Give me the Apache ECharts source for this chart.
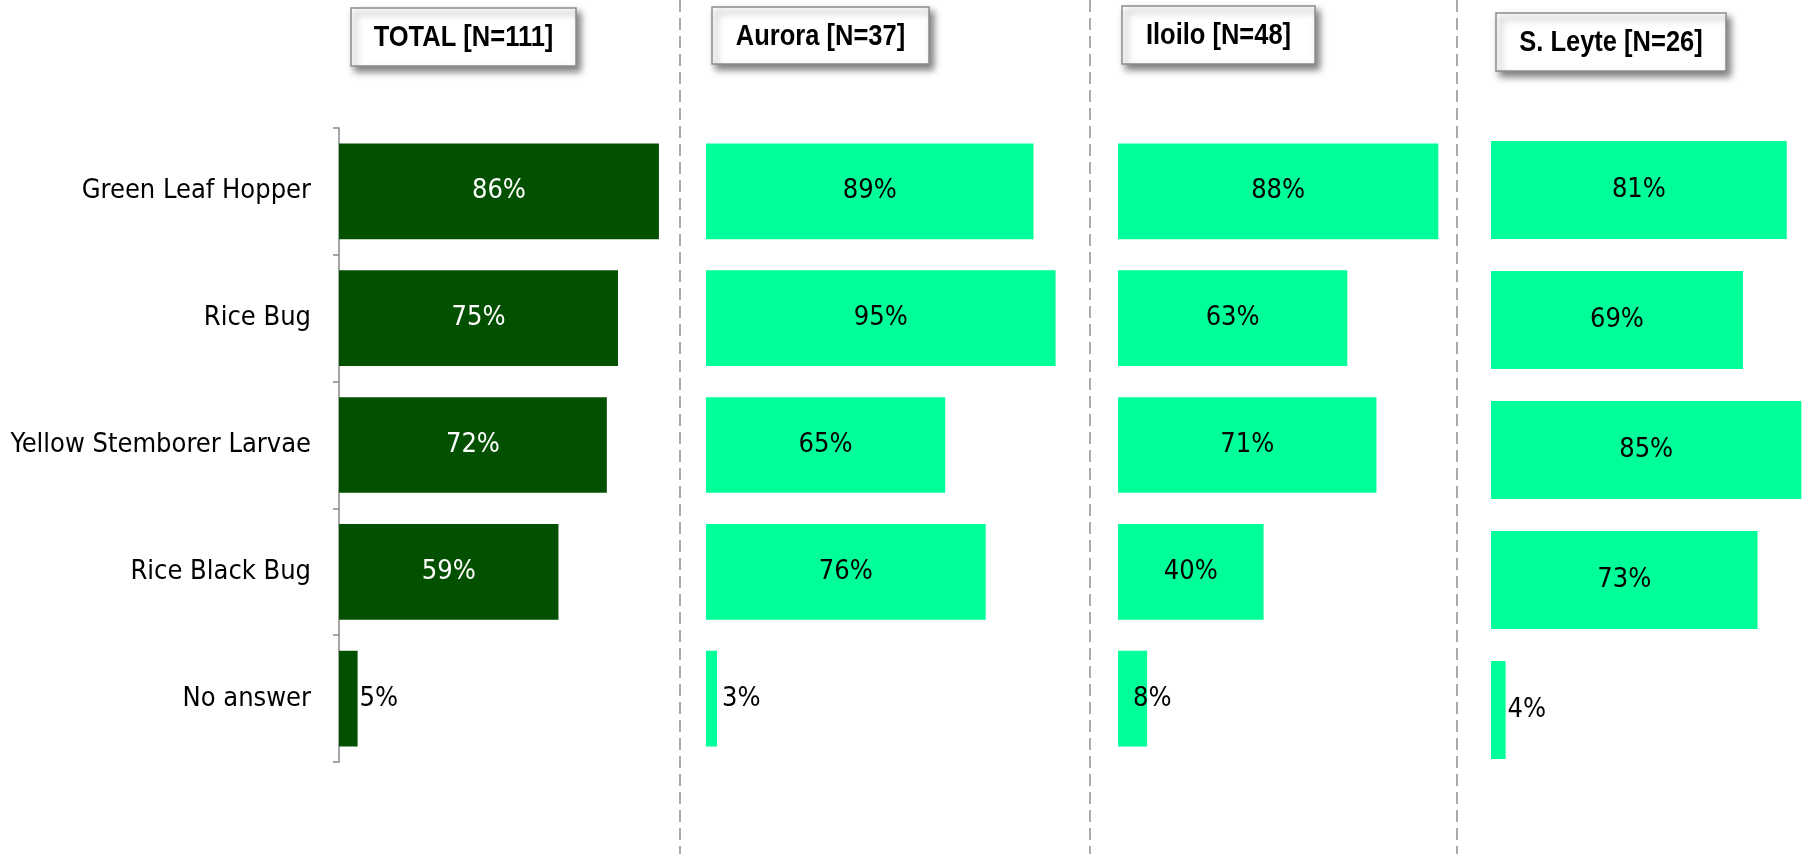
<!DOCTYPE html>
<html>
<head>
<meta charset="utf-8">
<script src="https://cdn.jsdelivr.net/npm/echarts@6/dist/echarts.min.js"></script>
<style>
  html, body { margin: 0; padding: 0; background: #fff; }
  #chart { width: 1805px; height: 854px; }
</style>
</head>
<body>
<div id="chart"></div>
<script>
const categories = ['Green Leaf Hopper', 'Rice Bug', 'Yellow Stemborer Larvae', 'Rice Black Bug', 'No answer']
const panelTitles = ['TOTAL [N=111]', 'Aurora [N=37]', 'Iloilo [N=48]', 'S. Leyte [N=26]']
const totalValues = [86, 75, 72, 59, 5]
const auroraValues = [89, 95, 65, 76, 3]
const iloiloValues = [88, 63, 71, 40, 8]
const leyteValues = [81, 69, 85, 73, 4]

const FONT = '"Liberation Sans Narrow", "Arial Narrow", "DejaVu Sans Condensed", sans-serif'
const DARK = '#025000'
const LIGHT = '#00FF99'

// layout of the four panels (px); S. Leyte runs up to the right edge, so its
// axis max is cut down instead of letting the grid overflow
const grids = [
  { left: 339, top: 128, width: 372, height: 634 },
  { left: 706, top: 128, width: 368, height: 634 },
  { left: 1118, top: 128, width: 364, height: 634 },
  { left: 1491, top: 125, width: 314, height: 650 },
]
const axisMax = [100, 100, 100, 86]
const boxes = [
  { x: 351, y: 8, w: 225, h: 58 },
  { x: 712, y: 7, w: 217, h: 57 },
  { x: 1122, y: 6, w: 193, h: 58 },
  { x: 1496, y: 13, w: 230, h: 58 },
]
const dividers = [680, 1090, 1457]

const seriesValues = [totalValues, auroraValues, iloiloValues, leyteValues]

const makeData = (vals, idx) =>
  vals.map((v) => {
    const item = { value: v }
    if (v < 10) {
      item.label = { position: 'right', distance: 2, color: '#000' }
      // Iloilo "8%" sits partly over its bar
      if (idx === 2) item.label.offset = [-16, 0]
      if (idx === 1) item.label.distance = 5
    }
    return item
  })

const option = {
  animation: false,
  backgroundColor: '#fff',
  grid: grids.map((g) => ({ ...g, containLabel: false })),
  xAxis: grids.map((g, i) => ({
    type: 'value',
    gridIndex: i,
    min: 0,
    max: axisMax[i],
    show: false,
  })),
  yAxis: grids.map((g, i) => ({
    type: 'category',
    gridIndex: i,
    data: categories,
    inverse: true,
    axisLine: { show: i === 0, lineStyle: { color: '#888', width: 1.5 } },
    axisTick: { show: i === 0, length: 6, lineStyle: { color: '#888', width: 1.5 } },
    axisLabel: {
      show: i === 0,
      fontFamily: FONT,
      fontSize: 27,
      color: '#000',
      margin: 28,
    },
  })),
  series: seriesValues.map((vals, i) => ({
    type: 'bar',
    xAxisIndex: i,
    yAxisIndex: i,
    barCategoryGap: '24.5%',
    data: makeData(vals, i),
    itemStyle: { color: i === 0 ? DARK : LIGHT },
    label: {
      show: true,
      position: 'inside',
      formatter: '{c}%',
      fontFamily: FONT,
      fontSize: 27,
      color: i === 0 ? '#fff' : '#000',
    },
  })),
  graphic: [
    ...dividers.map((x) => ({
      type: 'line',
      shape: { x1: x, y1: 0, x2: x, y2: 854 },
      style: { stroke: '#aaa', lineWidth: 2, lineDash: [12, 6] },
      z: 0,
    })),
    ...boxes.map((b, i) => ({
      type: 'group',
      children: [
        {
          type: 'rect',
          shape: { x: b.x, y: b.y, width: b.w, height: b.h },
          style: {
            fill: '#fff',
            stroke: '#8c8c8c',
            lineWidth: 1.5,
            shadowBlur: 7,
            shadowOffsetX: 4,
            shadowOffsetY: 5,
            shadowColor: 'rgba(0,0,0,0.5)',
          },
        },
        {
          // narrow bold look: Liberation Sans squeezed horizontally
          type: 'text',
          x: b.x + b.w / 2,
          y: b.y + b.h / 2 + 1,
          scaleX: 0.85,
          style: {
            text: panelTitles[i],
            fontFamily: '"Liberation Sans", Arial, sans-serif',
            fontWeight: 'bold',
            fontSize: 30,
            fill: '#000',
            align: 'center',
            verticalAlign: 'middle',
          },
        },
      ],
    })),
  ],
}

const chart = echarts.init(document.getElementById('chart'))
chart.setOption(option)
</script>
</body>
</html>
